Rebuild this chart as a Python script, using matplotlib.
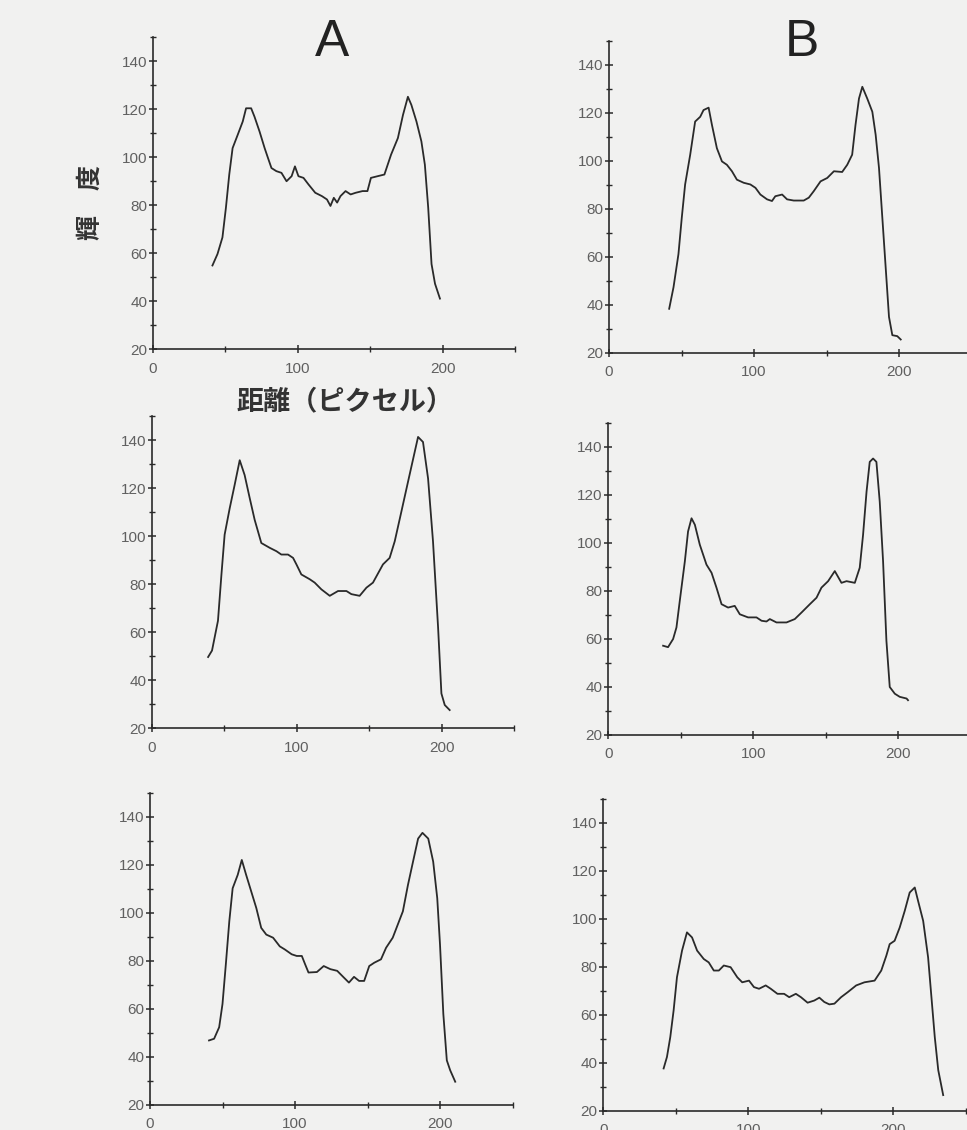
import matplotlib
matplotlib.use("Agg")
import matplotlib.pyplot as plt
from matplotlib.ticker import MultipleLocator

# panel A, top
a1_x = [41.2, 44.7, 48.1, 50.5, 52.8, 55.1, 58.6, 62.1, 64.4, 67.9, 70.2, 73.7, 77.2, 79.5, 81.9,
        85.3, 88.8, 92.3, 95.8, 98.1, 100.5, 104.0, 107.4, 112.1, 116.7, 120.2, 122.6, 124.9,
        127.2, 129.5, 133.0, 136.5, 140.0, 144.7, 148.1, 150.5, 155.1, 159.8, 164.4, 169.1,
        172.6, 176.0, 178.4, 181.9, 185.3, 187.7, 190.0, 192.3, 194.7, 198.1]
a1_y = [54.8, 59.6, 66.5, 78.9, 92.7, 103.7, 109.2, 114.8, 120.3, 120.3, 116.8, 110.6, 103.7, 99.6,
        95.4, 94.1, 93.4, 89.9, 92.0, 96.1, 92.0, 91.3, 88.6, 85.1, 83.7, 82.3, 79.6, 83.0, 81.0,
        83.7, 85.8, 84.4, 85.1, 85.8, 85.8, 91.3, 92.0, 92.7, 101.0, 107.9, 117.5, 125.1, 121.7,
        114.8, 106.5, 96.8, 78.9, 55.4, 47.2, 41.0]

# panel B, top
b1_x = [41.5, 44.5, 47.9, 50.2, 52.5, 56.0, 59.4, 62.9, 65.2, 68.7, 71.0, 74.4, 77.9, 81.3, 84.8,
        88.2, 92.9, 97.5, 101.0, 104.4, 109.0, 112.4, 114.7, 119.4, 122.8, 127.4, 134.3, 137.8,
        141.2, 145.9, 150.5, 155.1, 160.8, 164.3, 167.7, 170.0, 172.4, 174.7, 178.1, 181.6,
        183.9, 186.2, 188.5, 190.8, 193.1, 195.4, 198.8, 201.2]
b1_y = [38.3, 47.3, 61.1, 76.3, 90.1, 102.5, 116.3, 118.3, 121.1, 122.1, 114.9, 105.2, 99.7, 98.3,
        95.6, 92.1, 90.8, 90.1, 88.7, 85.9, 83.9, 83.2, 85.2, 85.9, 83.9, 83.4, 83.4, 84.6, 87.3,
        91.4, 92.8, 95.6, 95.3, 98.3, 102.5, 114.9, 125.9, 130.8, 125.9, 120.4, 110.8, 97.0,
        76.3, 55.6, 34.9, 27.3, 26.9, 25.5]

# panel A, middle
a2_x = [38.9, 41.6, 45.7, 48.1, 50.3, 53.8, 57.2, 60.7, 64.1, 67.6, 71.0, 75.6, 81.4, 86.0, 89.4,
        94.0, 97.5, 99.8, 103.2, 109.0, 112.4, 117.0, 122.8, 128.5, 134.3, 137.7, 143.4, 148.1,
        152.6, 159.5, 164.1, 167.6, 172.2, 176.8, 181.4, 183.7, 187.1, 190.6, 194.0, 197.5,
        199.8, 202.1, 205.5]
a2_y = [49.7, 52.4, 64.8, 84.1, 100.7, 111.7, 121.4, 131.7, 125.5, 115.9, 106.9, 97.2, 95.2, 93.8,
        92.4, 92.4, 91.0, 88.3, 84.1, 82.1, 80.7, 77.9, 75.2, 77.2, 77.2, 75.9, 75.2, 78.6, 80.7,
        88.3, 91.0, 97.9, 110.3, 122.8, 135.2, 141.4, 139.3, 124.1, 97.9, 62.1, 34.5, 29.7, 27.6]

# panel B, middle
b2_x = [37.8, 41.2, 44.7, 47.0, 49.3, 52.8, 55.0, 57.4, 59.7, 63.1, 67.7, 71.2, 74.6, 78.1, 82.6,
        87.2, 90.7, 96.4, 102.2, 105.7, 109.1, 111.4, 116.0, 122.9, 128.6, 133.2, 139.0, 143.6,
        147.0, 151.6, 156.2, 160.8, 164.3, 170.0, 173.4, 175.7, 178.1, 180.3, 182.6, 184.9,
        187.2, 189.5, 191.8, 194.1, 197.6, 201.0, 205.7, 206.7]
b2_y = [57.2, 56.6, 60.0, 64.8, 75.9, 92.4, 104.8, 110.3, 107.6, 99.3, 91.0, 87.6, 81.4, 74.5,
        73.1, 73.8, 70.3, 69.0, 69.0, 67.6, 67.3, 68.3, 66.9, 66.9, 68.3, 71.0, 74.5, 77.2, 81.4,
        84.1, 88.3, 83.4, 84.1, 83.4, 89.7, 103.4, 121.4, 133.8, 135.2, 133.8, 117.2, 92.4, 59.3,
        40.0, 37.2, 35.9, 35.2, 34.5]

# panel A, bottom
a3_x = [40.7, 44.2, 47.7, 50.0, 52.3, 54.7, 57.0, 60.5, 63.3, 66.3, 69.8, 73.3, 76.7, 80.2, 84.9,
        89.5, 93.0, 97.7, 101.2, 104.7, 107.0, 109.3, 115.1, 119.8, 124.4, 129.1, 133.7, 137.2,
        140.7, 144.2, 147.7, 151.2, 154.7, 159.3, 162.8, 167.4, 170.9, 174.4, 177.9, 181.4,
        184.9, 187.9, 191.9, 195.3, 198.1, 200.0, 202.3, 204.7, 207.0, 210.5]
a3_y = [46.9, 47.6, 52.4, 62.1, 78.6, 96.6, 110.3, 115.9, 122.1, 115.9, 109.0, 102.1, 93.8, 91.0,
        89.7, 86.1, 84.8, 82.8, 82.1, 82.1, 78.6, 75.2, 75.4, 77.9, 76.6, 75.9, 73.1, 71.0, 73.4,
        71.7, 71.7, 77.9, 79.3, 80.7, 85.5, 89.7, 95.2, 100.7, 111.7, 121.4, 131.0, 133.4, 131.0,
        121.4, 106.2, 86.9, 57.9, 38.6, 34.5, 29.7]

# panel B, bottom
b3_x = [41.6, 43.9, 46.2, 48.5, 50.8, 54.3, 57.7, 61.2, 64.7, 69.3, 72.7, 76.2, 79.7, 83.1, 87.8,
        92.4, 95.8, 100.5, 103.9, 107.4, 112.0, 115.5, 120.1, 124.7, 128.2, 132.8, 136.3, 140.9,
        145.5, 149.0, 152.4, 155.9, 159.4, 164.0, 168.6, 174.4, 180.1, 187.1, 191.7, 195.2,
        197.5, 200.9, 204.4, 207.9, 211.3, 214.8, 217.1, 220.6, 224.0, 226.3, 228.6, 231.0, 234.4]
b3_y = [37.6, 42.4, 50.7, 61.8, 75.6, 86.7, 94.3, 92.2, 86.7, 83.2, 81.8, 78.4, 78.4, 80.5, 79.8,
        75.6, 73.5, 74.2, 71.5, 70.8, 72.2, 70.8, 68.7, 68.7, 67.3, 68.7, 67.3, 65.0, 65.9, 67.1,
        65.3, 64.3, 64.6, 67.3, 69.4, 72.2, 73.5, 74.2, 78.4, 84.6, 89.4, 90.8, 96.3, 103.3,
        110.9, 113.0, 107.4, 99.1, 83.9, 67.3, 50.7, 36.9, 26.5]

x_ticks = [0, 100, 200]
y_ticks = [20, 40, 60, 80, 100, 120, 140]

W, H = 967, 1130
BG = "#f1f1f0"
INK = "#2a2a2a"
cjk = ["Noto Sans CJK JP", "DejaVu Sans"]


def make_panel(fig, x0, y0, xs, ys):
    """
    One intensity profile; x0, y0 = pixel position of the axes origin.
    """
    w = 250 * 1.45
    h = 130 * 2.4
    ax = fig.add_axes([x0 / W, 1 - y0 / H, w / W, h / H])
    ax.set_facecolor("none")
    ax.plot(xs, ys, color=INK, lw=1.3)
    ax.set_xlim(0, 250)
    ax.set_ylim(20, 150)
    ax.set_xticks(x_ticks)
    ax.set_yticks(y_ticks)
    ax.xaxis.set_minor_locator(MultipleLocator(50))
    ax.yaxis.set_minor_locator(MultipleLocator(10))
    for s in ["top", "right"]:
        ax.spines[s].set_visible(False)
    for s in ["left", "bottom"]:
        ax.spines[s].set_color(INK)
        ax.spines[s].set_linewidth(1.2)
    ax.tick_params(which="major", direction="inout", length=6, width=1.1,
                   color=INK, labelsize=11, labelcolor="#606060")
    ax.tick_params(axis="y", which="major", pad=1)
    ax.tick_params(axis="x", which="major", pad=6)
    ax.tick_params(which="minor", direction="inout", length=4, width=1.0, color=INK)
    for lab in ax.get_xticklabels() + ax.get_yticklabels():
        lab.set_family("Liberation Sans")
    return ax


fig = plt.figure(figsize=(W / 100, H / 100), dpi=100)
fig.patch.set_facecolor(BG)

make_panel(fig, 152.7, 349, a1_x, a1_y)
make_panel(fig, 609, 352.7, b1_x, b1_y)
make_panel(fig, 151.7, 728.3, a2_x, a2_y)
make_panel(fig, 608.3, 735, b2_x, b2_y)
make_panel(fig, 150, 1105, a3_x, a3_y)
make_panel(fig, 603.3, 1110.7, b3_x, b3_y)

# column headers and axis titles
fig.text(332 / W, 1 - 42 / H, "A", ha="center", va="center", fontsize=37,
         family="Liberation Sans", color="#222")
fig.text(802 / W, 1 - 43 / H, "B", ha="center", va="center", fontsize=37,
         family="Liberation Sans", color="#222")
fig.text(91 / W, 1 - 203 / H, "輝　度", ha="center", va="center", rotation=90,
         fontsize=18, family=cjk, weight="bold", color="#333")
fig.text(345 / W, 1 - 401 / H, "距離（ピクセル）", ha="center", va="center",
         fontsize=19.5, family=cjk, weight="bold", color="#333")

fig.savefig("out.png", dpi=100, facecolor=BG)
